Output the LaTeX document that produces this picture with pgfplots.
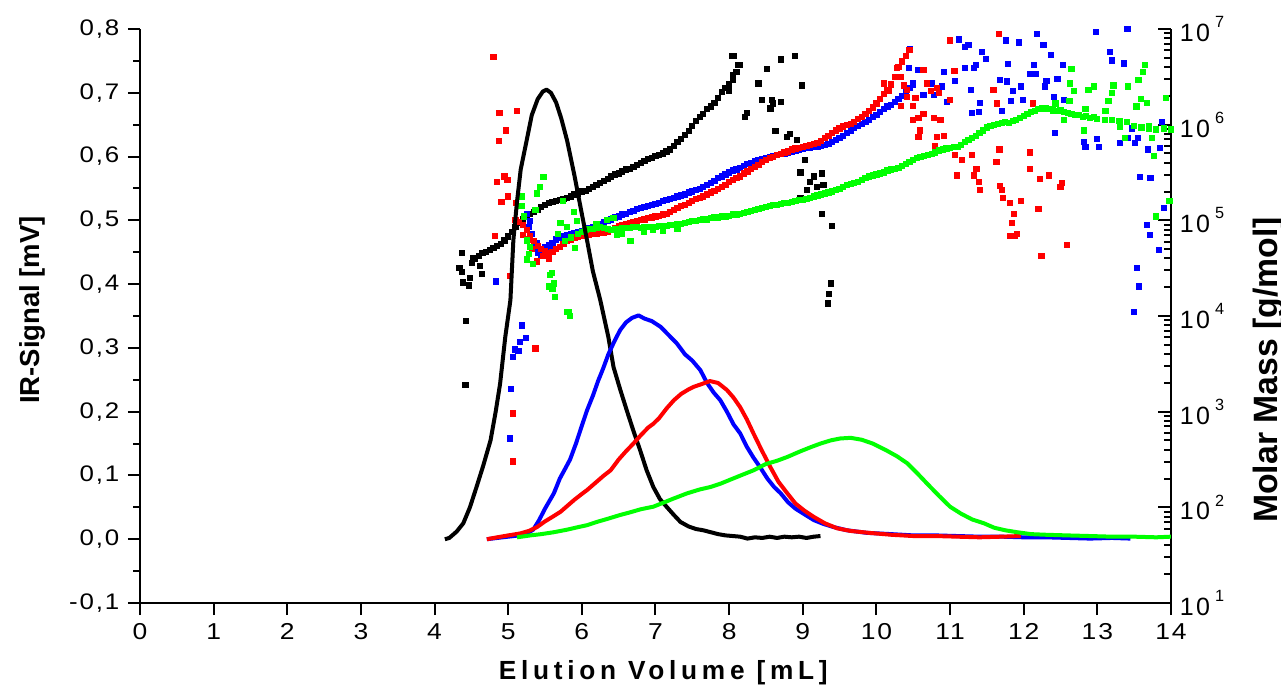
\documentclass[border=0pt]{standalone}
\usepackage{fontspec}
\setmainfont{Liberation Sans}
\newfontfamily\ytf[FakeStretch=1.15,LetterSpace=8]{Liberation Sans}
\newfontfamily\rtf[LetterSpace=10]{Liberation Sans}
\newfontfamily\lbf[LetterSpace=18]{Liberation Sans Bold}
\usepackage{pgfplots}
\pgfplotsset{compat=1.18}
\definecolor{cgreen}{RGB}{0,255,0}
\definecolor{cblue}{RGB}{0,0,255}
\definecolor{cred}{RGB}{255,0,0}
\newcommand\tp[1]{10\hspace{2pt}\raisebox{5.5pt}{\fontsize{6.5}{7}\selectfont #1}}
\begin{document}
\begin{tikzpicture}
% ---------- right axis: molar mass (log) ----------
\begin{axis}[
  scale only axis, width=412.4pt, height=229.6pt,
  xmin=0, xmax=14, ymode=log, ymin=10, ymax=1e7,
  hide x axis, axis y line*=right,
  axis line style={line width=0.9pt},
  tick align=inside,
  major tick length=5.2pt, minor tick length=2.8pt,
  tick style={black, line width=0.8pt},
  ytick={1e1,1e2,1e3,1e4,1e5,1e6,1e7},
  yticklabels={\tp{1},\tp{2},\tp{3},\tp{4},\tp{5},\tp{6},\tp{7}},
  minor ytick={20,30,40,50,60,70,80,90,200,300,400,500,600,700,800,900,2000,3000,4000,5000,6000,7000,8000,9000,2e4,3e4,4e4,5e4,6e4,7e4,8e4,9e4,2e5,3e5,4e5,5e5,6e5,7e5,8e5,9e5,2e6,3e6,4e6,5e6,6e6,7e6,8e6,9e6},
  yticklabel style={font=\rtf\fontsize{10}{12}\selectfont, anchor=west},
  mark size=1.05pt,
]
% black
\addplot[only marks, mark=square*, black] coordinates {
(4.55,3.98e4)(4.60,4.27e4)(4.65,4.57e4)(4.70,4.68e4)(4.75,4.90e4)(4.80,5.13e4)(4.85,5.37e4)(4.90,5.62e4)(4.95,6.17e4)(5.00,6.76e4)
(5.05,7.59e4)(5.10,8.51e4)(5.15,9.33e4)(5.20,1.02e5)(5.25,1.10e5)(5.30,1.17e5)(5.35,1.23e5)(5.40,1.29e5)(5.45,1.38e5)(5.50,1.45e5)
(5.55,1.51e5)(5.60,1.55e5)(5.65,1.58e5)(5.70,1.62e5)(5.75,1.66e5)(5.80,1.70e5)(5.85,1.78e5)(5.90,1.86e5)(5.95,1.91e5)(6.00,2.00e5)
(6.05,2.04e5)(6.10,2.14e5)(6.15,2.24e5)(6.20,2.34e5)(6.25,2.45e5)(6.30,2.57e5)(6.35,2.69e5)(6.40,2.88e5)(6.45,3.02e5)(6.50,3.09e5)
(6.55,3.24e5)(6.60,3.39e5)(6.65,3.47e5)(6.70,3.63e5)(6.75,3.80e5)(6.80,3.98e5)(6.85,4.17e5)(6.90,4.37e5)(6.95,4.47e5)(7.00,4.68e5)
(7.05,4.79e5)(7.10,5.01e5)(7.15,5.25e5)(7.20,5.50e5)(7.25,6.03e5)(7.30,6.61e5)(7.35,7.08e5)(7.40,7.76e5)(7.45,8.51e5)(7.50,9.77e5)
(7.55,1.10e6)(7.60,1.20e6)(7.65,1.29e6)(7.70,1.45e6)(7.75,1.55e6)(7.80,1.70e6)(7.85,1.91e6)(7.90,2.19e6)(7.95,2.40e6)(8.00,2.63e6)(8.05,2.95e6)
(4.37,4.57e4)(4.37,2.88e4)(4.39,2.24e4)(4.34,3.16e4)(4.43,8.91e3)(4.42,1.91e3)(4.47,2.09e4)(4.48,2.51e4)(4.53,4.07e4)(4.64,2.75e4)(4.62,3.31e4)(4.51,3.55e4)
(8.04,5.25e6)(8.07,5.25e6)(8.10,3.55e6)(8.12,4.17e6)(8.15,4.17e6)(8.05,3.31e6)(8.00,2.24e6)(8.22,1.20e6)(8.24,1.32e6)(8.40,2.69e6)
(8.51,3.80e6)(8.70,4.79e6)(8.89,5.25e6)(8.99,2.57e6)(8.56,1.48e6)(8.60,1.66e6)(8.70,1.74e6)(8.58,1.82e6)(8.45,1.82e6)(8.63,8.51e5)
(8.79,7.41e5)(8.92,6.92e5)(9.03,4.27e5)(8.97,3.16e5)(9.15,2.88e5)(9.06,2.09e5)(9.19,2.24e5)(9.28,2.34e5)(8.97,1.70e5)(9.26,1.17e5)
(9.40,8.71e4)(9.38,2.19e4)(9.36,1.70e4)(9.34,1.35e4)(9.26,3.09e5)(8.83,7.94e5)(9.10,2.51e5)
};
% blue
\addplot[only marks, mark=square*, cblue] coordinates {
(5.45,5.01e4)(5.50,5.25e4)(5.55,5.50e4)(5.60,5.75e4)(5.65,6.31e4)(5.70,6.61e4)(5.75,6.92e4)(5.80,7.08e4)(5.85,7.24e4)(5.90,7.41e4)
(5.95,7.59e4)(6.00,7.76e4)(6.05,7.94e4)(6.10,8.32e4)(6.15,8.51e4)(6.20,8.91e4)(6.25,9.12e4)(6.30,9.55e4)(6.35,9.77e4)(6.40,1.02e5)
(6.45,1.07e5)(6.50,1.10e5)(6.55,1.15e5)(6.60,1.17e5)(6.65,1.23e5)(6.70,1.26e5)(6.75,1.32e5)(6.80,1.35e5)(6.85,1.38e5)(6.90,1.41e5)
(6.95,1.45e5)(7.00,1.48e5)(7.05,1.51e5)(7.10,1.58e5)(7.15,1.62e5)(7.20,1.66e5)(7.25,1.70e5)(7.30,1.78e5)(7.35,1.82e5)(7.40,1.86e5)
(7.45,1.95e5)(7.50,2.00e5)(7.55,2.09e5)(7.60,2.14e5)(7.65,2.24e5)(7.70,2.34e5)(7.75,2.45e5)(7.80,2.57e5)(7.85,2.75e5)(7.90,2.88e5)
(7.95,3.02e5)(8.00,3.16e5)(8.05,3.31e5)(8.10,3.39e5)(8.15,3.55e5)(8.20,3.72e5)(8.25,3.89e5)(8.30,3.98e5)(8.35,4.17e5)(8.40,4.27e5)
(8.45,4.37e5)(8.50,4.47e5)(8.55,4.57e5)(8.60,4.68e5)(8.65,4.79e5)(8.70,4.90e5)(8.75,5.01e5)(8.80,5.13e5)(8.85,5.25e5)(8.90,5.37e5)
(8.95,5.50e5)(9.00,5.62e5)(9.05,5.75e5)(9.10,5.75e5)(9.15,5.89e5)(9.20,5.89e5)(9.25,6.03e5)(9.30,6.17e5)(9.35,6.31e5)(9.40,6.61e5)
(9.45,6.92e5)(9.50,7.24e5)(9.55,7.59e5)(9.60,8.13e5)(9.65,8.71e5)(9.70,9.33e5)(9.75,9.77e5)(9.80,1.02e6)(9.85,1.07e6)(9.90,1.12e6)
(9.95,1.20e6)(10.00,1.26e6)(10.05,1.35e6)(10.10,1.45e6)(10.15,1.55e6)(10.20,1.62e6)(10.25,1.74e6)(10.30,1.86e6)(10.35,2.00e6)(10.40,2.19e6)
(10.45,2.40e6)(10.50,2.63e6)
(4.83,2.29e4)(5.19,7.94e3)(5.24,5.89e3)(5.16,5.37e3)(5.09,4.47e3)(5.14,4.27e3)(5.06,3.72e3)(5.04,1.74e3)(5.02,525)
(5.25,1.17e5)(5.30,9.77e4)(5.32,7.24e4)(5.36,5.25e4)(5.39,5.75e4)(5.41,4.57e4)(5.45,4.37e4)(5.58,5.01e4)(5.28,8.51e4)
(10.46,6.17e6)(10.44,3.89e6)(10.57,3.72e6)(10.50,2.69e6)(10.75,2.69e6)(10.64,2.04e6)(10.78,2.04e6)(10.92,3.55e6)(10.89,2.51e6)(10.96,1.74e6)
(11.07,2.88e6)(11.12,7.76e6)(11.20,6.46e6)(11.25,6.76e6)(11.20,3.89e6)(11.32,3.89e6)(11.35,4.17e6)(11.43,5.75e6)(11.49,4.90e6)(11.28,2.29e6)
(11.30,1.32e6)(11.39,1.35e6)(11.41,1.70e6)(11.68,2.95e6)(11.77,2.82e6)(11.70,1.38e6)(11.83,1.78e6)(11.85,2.24e6)(11.76,7.59e6)(11.79,4.27e6)
(11.94,7.24e6)(11.96,2.51e6)(11.99,1.82e6)(12.09,3.39e6)(12.16,3.39e6)(12.14,4.17e6)(12.18,8.91e6)(12.27,6.76e6)(12.31,2.88e6)(12.29,2.51e6)
(12.37,5.37e6)(12.41,1.95e6)(12.46,3.02e6)(12.53,4.17e6)(12.55,1.82e6)(12.42,8.13e5)(12.82,6.61e5)(12.84,5.89e5)(12.99,7.08e5)(13.02,5.89e5)
(12.98,9.33e6)(13.17,5.75e6)(13.20,4.68e6)(13.36,4.37e6)(13.41,1.00e7)(13.31,6.46e5)(13.42,7.24e5)(13.51,6.46e5)(13.47,9.12e5)(13.55,7.24e5)
(13.69,5.50e5)(13.85,5.75e5)(13.88,1.07e6)(13.58,2.82e5)(13.72,2.75e5)(13.90,1.35e5)(13.67,8.91e4)(13.71,7.08e4)(13.84,4.90e4)(13.54,3.16e4)
(13.57,2.04e4)(13.50,1.10e4)
};
% red
\addplot[only marks, mark=square*, cred] coordinates {
(5.10,1.00e5)(5.15,9.55e4)(5.20,8.91e4)(5.25,7.94e4)(5.30,6.92e4)(5.35,6.03e4)(5.40,5.37e4)(5.45,5.01e4)(5.50,4.79e4)(5.55,4.57e4)
(5.60,4.68e4)(5.65,5.01e4)(5.70,5.25e4)(5.75,5.62e4)(5.80,6.03e4)(5.85,6.31e4)(5.90,6.61e4)(5.95,6.76e4)(6.00,6.92e4)(6.05,7.08e4)
(6.10,7.08e4)(6.15,7.24e4)(6.20,7.24e4)(6.25,7.41e4)(6.30,7.41e4)(6.35,7.59e4)(6.40,7.94e4)(6.45,8.32e4)(6.50,8.71e4)(6.55,8.91e4)
(6.60,9.12e4)(6.65,9.33e4)(6.70,9.55e4)(6.75,9.77e4)(6.80,1.00e5)(6.85,1.02e5)(6.90,1.05e5)(6.95,1.07e5)(7.00,1.10e5)(7.05,1.12e5)
(7.10,1.15e5)(7.15,1.17e5)(7.20,1.23e5)(7.25,1.29e5)(7.30,1.35e5)(7.35,1.41e5)(7.40,1.45e5)(7.45,1.51e5)(7.50,1.58e5)(7.55,1.66e5)
(7.60,1.70e5)(7.65,1.78e5)(7.70,1.86e5)(7.75,1.95e5)(7.80,2.04e5)(7.85,2.14e5)(7.90,2.24e5)(7.95,2.34e5)(8.00,2.51e5)(8.05,2.63e5)
(8.10,2.75e5)(8.15,2.88e5)(8.20,3.09e5)(8.25,3.24e5)(8.30,3.47e5)(8.35,3.63e5)(8.40,3.80e5)(8.45,4.07e5)(8.50,4.27e5)(8.55,4.47e5)
(8.60,4.57e5)(8.65,4.79e5)(8.70,4.90e5)(8.75,5.13e5)(8.80,5.25e5)(8.85,5.50e5)(8.90,5.62e5)(8.95,5.75e5)(9.00,5.89e5)(9.05,6.03e5)
(9.10,6.17e5)(9.15,6.31e5)(9.20,6.46e5)(9.25,6.76e5)(9.30,7.24e5)(9.35,7.59e5)(9.40,8.13e5)(9.45,8.71e5)(9.50,9.12e5)(9.55,9.55e5)
(9.60,1.00e6)(9.65,1.02e6)(9.70,1.07e6)(9.75,1.15e6)(9.80,1.20e6)(9.85,1.29e6)(9.90,1.38e6)(9.95,1.51e6)(10.00,1.66e6)(10.05,1.86e6)
(10.10,2.09e6)(10.15,2.29e6)(10.20,2.63e6)(10.25,3.16e6)(10.30,3.98e6)(10.35,4.57e6)(10.40,5.25e6)(10.45,6.03e6)
(4.80,5.13e6)(4.88,1.32e6)(5.12,1.38e6)(4.97,8.71e5)(4.87,6.76e5)(4.95,2.88e5)(4.85,2.51e5)(4.99,2.63e5)(5.00,1.78e5)(4.91,1.55e5)
(5.11,1.51e5)(4.82,6.92e4)(5.02,2.63e4)(5.37,4.57e3)(5.07,955)(5.06,302)(5.39,3.72e4)(5.32,5.01e4)(5.48,4.27e4)(5.55,3.98e4)
(5.20,7.08e4)(5.28,6.31e4)
(10.10,2.69e6)(10.17,2.24e6)(10.33,3.16e6)(10.28,3.89e6)(10.37,2.57e6)(10.42,2.29e6)(10.53,1.91e6)(10.41,1.95e6)(10.33,1.58e6)(10.50,1.58e6)
(10.74,2.24e6)(10.85,2.14e6)(10.78,1.17e6)(10.87,1.12e6)(10.57,1.17e6)(10.64,1.29e6)(10.64,3.72e6)(10.69,2.69e6)(11.00,7.59e6)(11.06,3.63e6)
(10.82,2.40e6)(11.00,1.82e6)(10.50,1.12e6)(10.59,8.71e5)(10.57,7.41e5)(10.82,7.41e5)(10.92,7.59e5)(10.80,6.03e5)(11.07,4.79e5)(11.16,4.27e5)
(11.09,2.95e5)(11.32,2.95e5)(11.36,3.47e5)(11.39,2.51e5)(11.41,2.09e5)(11.30,4.79e5)(11.59,2.29e6)(11.66,8.91e6)(11.64,1.66e6)(11.67,5.50e5)
(11.63,4.07e5)(11.68,2.29e5)(11.70,2.09e5)(11.72,1.70e5)(11.81,1.51e5)(11.87,1.17e5)(11.84,9.33e4)(11.82,6.92e4)(11.88,6.92e4)(11.91,7.24e4)
(11.96,1.58e5)(12.13,1.66e6)(12.09,5.13e5)(12.09,3.47e5)(12.22,2.69e5)(12.34,2.95e5)(12.20,1.32e5)(12.52,2.45e5)(12.50,2.24e5)(12.24,4.27e4)
(12.59,5.50e4)
};
% green
\addplot[only marks, mark=square*, cgreen] coordinates {
(5.95,7.24e4)(6.00,7.59e4)(6.05,7.94e4)(6.10,8.13e4)(6.15,8.13e4)(6.20,8.32e4)(6.25,8.51e4)(6.30,8.32e4)(6.35,8.13e4)(6.40,7.94e4)
(6.45,8.13e4)(6.50,8.13e4)(6.55,8.32e4)(6.60,8.32e4)(6.65,8.32e4)(6.70,8.51e4)(6.75,8.51e4)(6.80,8.32e4)(6.85,8.51e4)(6.90,8.51e4)
(6.95,8.51e4)(7.00,8.51e4)(7.05,8.71e4)(7.10,8.71e4)(7.15,8.71e4)(7.20,8.91e4)(7.25,8.91e4)(7.30,9.12e4)(7.35,9.12e4)(7.40,9.33e4)
(7.45,9.55e4)(7.50,9.77e4)(7.55,9.77e4)(7.60,1.00e5)(7.65,1.02e5)(7.70,1.02e5)(7.75,1.05e5)(7.80,1.07e5)(7.85,1.07e5)(7.90,1.10e5)
(7.95,1.10e5)(8.00,1.12e5)(8.05,1.15e5)(8.10,1.15e5)(8.15,1.17e5)(8.20,1.20e5)(8.25,1.23e5)(8.30,1.26e5)(8.35,1.29e5)(8.40,1.32e5)
(8.45,1.35e5)(8.50,1.38e5)(8.55,1.41e5)(8.60,1.45e5)(8.65,1.45e5)(8.70,1.48e5)(8.75,1.51e5)(8.80,1.51e5)(8.85,1.55e5)(8.90,1.58e5)
(8.95,1.62e5)(9.00,1.62e5)(9.05,1.66e5)(9.10,1.70e5)(9.15,1.78e5)(9.20,1.82e5)(9.25,1.86e5)(9.30,1.91e5)(9.35,1.95e5)(9.40,2.00e5)
(9.45,2.09e5)(9.50,2.14e5)(9.55,2.24e5)(9.60,2.34e5)(9.65,2.40e5)(9.70,2.45e5)(9.75,2.51e5)(9.80,2.63e5)(9.85,2.75e5)(9.90,2.88e5)
(9.95,2.95e5)(10.00,3.02e5)(10.05,3.09e5)(10.10,3.16e5)(10.15,3.31e5)(10.20,3.39e5)(10.25,3.47e5)(10.30,3.55e5)(10.35,3.72e5)(10.40,3.89e5)
(10.45,4.07e5)(10.50,4.27e5)(10.55,4.47e5)(10.60,4.57e5)(10.65,4.68e5)(10.70,4.79e5)(10.75,4.90e5)(10.80,5.13e5)(10.85,5.37e5)(10.90,5.50e5)
(10.95,5.62e5)(11.00,5.75e5)(11.05,5.89e5)(11.10,5.89e5)(11.15,6.17e5)(11.20,6.61e5)(11.25,6.92e5)(11.30,7.24e5)(11.35,7.59e5)(11.40,8.13e5)
(11.45,8.71e5)(11.50,9.33e5)(11.55,9.77e5)(11.60,1.00e6)(11.65,1.02e6)(11.70,1.05e6)(11.75,1.07e6)(11.80,1.05e6)(11.85,1.10e6)(11.90,1.12e6)
(11.95,1.17e6)(12.00,1.23e6)(12.05,1.29e6)(12.10,1.35e6)(12.15,1.38e6)(12.20,1.45e6)(12.25,1.48e6)(12.30,1.48e6)(12.35,1.45e6)(12.40,1.41e6)
(12.45,1.38e6)(12.50,1.41e6)(12.55,1.35e6)(12.60,1.32e6)(12.65,1.29e6)(12.70,1.26e6)(12.75,1.26e6)(12.80,1.20e6)(12.85,1.23e6)(12.90,1.17e6)
(12.95,1.20e6)(13.00,1.15e6)(13.10,1.12e6)(13.20,1.12e6)(13.30,1.10e6)(13.40,1.07e6)(13.50,9.77e5)(13.60,9.33e5)(13.70,9.12e5)(13.80,8.91e5)
(13.90,9.12e5)(14.00,8.91e5)
(5.48,2.82e5)(5.43,2.24e5)(5.39,1.91e5)(5.19,1.78e5)(5.18,1.41e5)(5.21,1.10e5)(5.37,1.29e5)(5.74,1.58e5)(5.89,1.23e5)(5.25,6.17e4)
(5.30,5.25e4)(5.25,3.89e4)(5.34,3.47e4)(5.59,2.82e4)(5.55,2.04e4)(5.62,2.19e4)(5.64,1.58e4)(5.80,1.10e4)(5.84,1.00e4)(5.82,1.10e4)
(5.71,9.33e4)(5.80,8.51e4)(5.68,7.24e4)(5.77,6.03e4)(5.91,5.13e4)(5.93,9.77e4)(5.28,4.47e4)(5.57,2.69e4)(5.60,1.91e4)(5.85,6.61e4)
(6.48,7.08e4)(6.66,6.03e4)(6.84,7.59e4)(6.97,7.94e4)(6.34,1.00e5)(6.43,1.05e5)(6.20,9.12e4)(6.55,7.24e4)(7.10,7.76e4)(7.30,8.13e4)
(12.65,3.80e6)(12.63,2.69e6)(12.68,2.24e6)(12.62,1.78e6)(12.88,2.29e6)(12.95,2.51e6)(13.22,2.57e6)(13.42,2.51e6)(13.20,2.14e6)(13.15,1.78e6)
(13.59,1.86e6)(13.65,4.17e6)(13.62,3.55e6)(13.56,2.95e6)(13.93,1.91e6)(13.53,1.55e6)(13.67,1.70e6)(12.84,1.45e6)(13.11,1.38e6)(12.82,8.71e5)
(13.31,9.55e5)(13.38,7.24e5)(13.70,9.55e5)(13.77,4.68e5)(13.74,7.24e5)(13.80,1.10e5)(13.98,1.58e5)(12.43,1.66e6)(12.55,1.12e6)
};
\end{axis}
% ---------- left axis: IR signal ----------
\begin{axis}[
  scale only axis, width=412.4pt, height=229.6pt,
  xmin=0, xmax=14, ymin=-0.1, ymax=0.8,
  axis x line*=bottom, axis y line*=left,
  axis line style={line width=0.9pt},
  tick align=outside,
  major tick length=4.8pt, minor tick length=2.6pt,
  tick style={black, line width=0.8pt},
  xtick={0,1,2,3,4,5,6,7,8,9,10,11,12,13,14},
  xticklabels={0,1,2,3,4,5,6,7,8,9,10,11,12,13,14},
  xticklabel style={font=\ytf\fontsize{9.2}{11}\selectfont},
  ytick={-0.1,0,0.1,0.2,0.3,0.4,0.5,0.6,0.7,0.8},
  yticklabels={{-0,1},{0,0},{0,1},{0,2},{0,3},{0,4},{0,5},{0,6},{0,7},{0,8}},
  yticklabel style={font=\ytf\fontsize{9}{11}\selectfont},
  minor y tick num=1,
]
\addplot[black, line width=1.6pt, line join=round] coordinates {
(4.14,0.000)(4.20,0.002)(4.30,0.012)(4.39,0.025)(4.48,0.050)(4.57,0.082)(4.66,0.115)(4.76,0.155)(4.83,0.200)(4.89,0.244)
(4.96,0.317)(5.03,0.375)(5.07,0.469)(5.12,0.530)(5.17,0.580)(5.25,0.625)(5.32,0.665)(5.40,0.690)(5.47,0.702)(5.52,0.705)
(5.58,0.700)(5.65,0.685)(5.72,0.660)(5.80,0.625)(5.90,0.570)(6.00,0.510)(6.07,0.469)(6.15,0.420)(6.25,0.375)(6.36,0.317)
(6.43,0.270)(6.52,0.235)(6.61,0.202)(6.70,0.170)(6.79,0.140)(6.88,0.108)(6.97,0.082)(7.06,0.063)(7.15,0.051)(7.25,0.038)
(7.34,0.027)(7.45,0.020)(7.55,0.016)(7.65,0.014)(7.75,0.011)(7.85,0.008)(7.95,0.006)(8.05,0.005)(8.15,0.004)(8.25,0.001)
(8.35,0.003)(8.45,0.002)(8.55,0.004)(8.65,0.002)(8.75,0.004)(8.85,0.003)(8.95,0.004)(9.05,0.002)(9.15,0.004)(9.24,0.005)
};
\addplot[cblue, line width=1.6pt, line join=round] coordinates {
(4.71,0.000)(4.85,0.002)(5.00,0.004)(5.15,0.006)(5.25,0.009)(5.34,0.015)(5.42,0.030)(5.50,0.048)(5.56,0.060)(5.62,0.072)
(5.70,0.095)(5.78,0.112)(5.84,0.125)(5.92,0.150)(6.00,0.178)(6.07,0.202)(6.15,0.225)(6.22,0.248)(6.29,0.268)(6.36,0.290)
(6.44,0.310)(6.52,0.328)(6.60,0.340)(6.68,0.347)(6.77,0.351)(6.85,0.346)(6.95,0.342)(7.07,0.333)(7.18,0.320)(7.29,0.307)
(7.40,0.290)(7.50,0.280)(7.61,0.265)(7.70,0.245)(7.79,0.230)(7.88,0.218)(7.97,0.200)(8.06,0.180)(8.15,0.166)(8.24,0.145)
(8.33,0.128)(8.42,0.113)(8.52,0.095)(8.61,0.082)(8.70,0.072)(8.80,0.058)(8.90,0.048)(9.01,0.040)(9.15,0.030)(9.28,0.024)
(9.42,0.019)(9.60,0.014)(9.87,0.010)(10.2,0.008)(10.5,0.006)(10.8,0.006)(11.1,0.005)(11.4,0.004)(11.7,0.004)(12.0,0.003)
(12.3,0.003)(12.6,0.002)(12.9,0.001)(13.2,0.002)(13.45,0.001)
};
\addplot[cred, line width=1.6pt, line join=round] coordinates {
(4.71,0.000)(4.85,0.003)(5.00,0.006)(5.16,0.009)(5.28,0.013)(5.39,0.019)(5.50,0.028)(5.60,0.035)(5.71,0.043)(5.80,0.052)
(5.90,0.062)(6.00,0.071)(6.07,0.077)(6.20,0.090)(6.30,0.100)(6.39,0.108)(6.50,0.125)(6.60,0.138)(6.70,0.150)(6.80,0.163)
(6.90,0.175)(6.97,0.181)(7.05,0.190)(7.15,0.205)(7.25,0.218)(7.35,0.228)(7.45,0.235)(7.52,0.239)(7.62,0.243)(7.74,0.248)
(7.85,0.245)(7.97,0.234)(8.06,0.222)(8.15,0.207)(8.24,0.188)(8.33,0.166)(8.44,0.140)(8.56,0.113)(8.67,0.090)(8.79,0.072)
(8.90,0.056)(9.02,0.045)(9.15,0.035)(9.30,0.025)(9.47,0.017)(9.65,0.013)(9.90,0.010)(10.2,0.007)(10.5,0.005)(10.8,0.005)
(11.1,0.004)(11.4,0.003)(11.7,0.004)(11.96,0.005)
};
\addplot[cgreen, line width=1.6pt, line join=round] coordinates {
(5.12,0.003)(5.30,0.006)(5.45,0.008)(5.62,0.011)(5.80,0.015)(5.95,0.019)(6.07,0.022)(6.20,0.027)(6.35,0.032)(6.52,0.038)
(6.65,0.042)(6.80,0.047)(6.97,0.051)(7.10,0.057)(7.25,0.064)(7.43,0.072)(7.60,0.078)(7.75,0.082)(7.88,0.087)(8.05,0.095)
(8.20,0.102)(8.33,0.108)(8.50,0.118)(8.65,0.123)(8.79,0.129)(8.95,0.137)(9.10,0.144)(9.24,0.150)(9.38,0.155)(9.51,0.158)
(9.65,0.159)(9.80,0.156)(9.95,0.150)(10.14,0.139)(10.28,0.130)(10.42,0.119)(10.55,0.104)(10.69,0.087)(10.85,0.068)(11.00,0.051)
(11.15,0.040)(11.30,0.031)(11.46,0.025)(11.60,0.018)(11.75,0.014)(11.91,0.011)(12.10,0.008)(12.30,0.007)(12.59,0.006)(12.90,0.005)
(13.20,0.004)(13.50,0.004)(13.80,0.003)(14.00,0.004)
};
\end{axis}
\node[rotate=90, anchor=base, font=\bfseries\fontsize{11}{13}\selectfont] at (-40pt,117.2pt) {IR-Signal [mV]};
\node[rotate=90, anchor=base, font=\bfseries\fontsize{13.5}{15}\selectfont] at (454.8pt,93.2pt) {Molar Mass [g/mol]};
\node[anchor=base, font=\lbf\fontsize{10.5}{12}\selectfont] at (209.3pt,-30.4pt) {Elution Volume [mL]};
\pgfresetboundingbox
\useasboundingbox (-56pt,-35.2pt) rectangle (456.4pt,241.2pt);
\end{tikzpicture}
\end{document}
